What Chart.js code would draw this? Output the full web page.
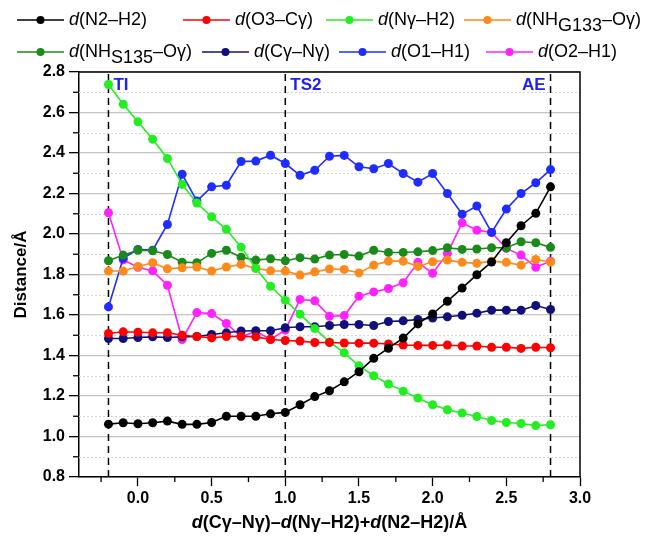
<!DOCTYPE html>
<html>
<head>
<meta charset="utf-8">
<title>Distances along the reaction coordinate</title>
<script src="https://cdn.jsdelivr.net/npm/chart.js@4.4.1/dist/chart.umd.min.js"></script>
<style>
  html, body { margin: 0; padding: 0; background: #ffffff; }
  #wrap { width: 648px; height: 544px; }
</style>
</head>
<body>
<div id="wrap"><canvas id="c" width="648" height="544"></canvas></div>
<script>
// Reaction coordinate d(Cγ–Nγ) − d(Nγ–H2) + d(N2–H2), Å
const xValues = [-0.2, -0.1, 0.0, 0.1, 0.2, 0.3, 0.4, 0.5, 0.6, 0.7, 0.8, 0.9, 1.0, 1.1, 1.2, 1.3,
                 1.4, 1.5, 1.6, 1.7, 1.8, 1.9, 2.0, 2.1, 2.2, 2.3, 2.4, 2.5, 2.6, 2.7, 2.8];

// Interatomic distances, Å
const dN2H2 = [1.061, 1.068, 1.063, 1.068, 1.076, 1.060, 1.060, 1.069, 1.100, 1.100, 1.100, 1.112, 1.119, 1.157, 1.197, 1.226,
               1.270, 1.320, 1.386, 1.436, 1.486, 1.556, 1.605, 1.668, 1.733, 1.799, 1.862, 1.957, 2.041, 2.102, 2.233];
const dO3Cg = [1.509, 1.517, 1.515, 1.512, 1.512, 1.500, 1.494, 1.487, 1.494, 1.495, 1.492, 1.479, 1.474, 1.471, 1.464, 1.464,
               1.462, 1.461, 1.461, 1.457, 1.452, 1.450, 1.450, 1.452, 1.447, 1.447, 1.441, 1.441, 1.435, 1.441, 1.438];
const dNgH2 = [2.738, 2.641, 2.554, 2.468, 2.373, 2.245, 2.153, 2.085, 2.023, 1.935, 1.830, 1.742, 1.672, 1.604, 1.533, 1.467,
               1.413, 1.349, 1.300, 1.259, 1.224, 1.190, 1.157, 1.132, 1.116, 1.099, 1.079, 1.069, 1.064, 1.054, 1.058];
const dNHG133Og = [1.817, 1.817, 1.840, 1.858, 1.828, 1.833, 1.837, 1.817, 1.837, 1.850, 1.831, 1.818, 1.817, 1.797, 1.813, 1.827,
                   1.825, 1.808, 1.846, 1.866, 1.866, 1.840, 1.863, 1.871, 1.860, 1.855, 1.866, 1.860, 1.846, 1.874, 1.862];
const dNHS135Og = [1.868, 1.896, 1.920, 1.917, 1.899, 1.861, 1.858, 1.904, 1.920, 1.885, 1.871, 1.878, 1.868, 1.883, 1.876, 1.896,
                   1.899, 1.891, 1.920, 1.909, 1.909, 1.912, 1.918, 1.932, 1.924, 1.926, 1.932, 1.932, 1.962, 1.957, 1.934];
const dCgNg = [1.484, 1.484, 1.489, 1.492, 1.489, 1.492, 1.494, 1.504, 1.512, 1.521, 1.522, 1.522, 1.537, 1.542, 1.542, 1.548,
               1.553, 1.553, 1.548, 1.568, 1.571, 1.578, 1.585, 1.591, 1.599, 1.609, 1.624, 1.624, 1.624, 1.647, 1.627];
const dO1H1 = [1.640, 1.880, 1.924, 1.920, 2.047, 2.295, 2.163, 2.233, 2.241, 2.358, 2.360, 2.389, 2.348, 2.290, 2.315, 2.384,
               2.388, 2.332, 2.322, 2.348, 2.299, 2.256, 2.299, 2.200, 2.098, 2.138, 2.008, 2.123, 2.200, 2.253, 2.318];
const dO2H1 = [2.105, 1.872, 1.836, 1.818, 1.747, 1.479, 1.612, 1.607, 1.558, 1.492, 1.519, 1.480, 1.525, 1.677, 1.670, 1.594,
               1.597, 1.693, 1.714, 1.731, 1.759, 1.860, 1.806, 1.904, 2.055, 2.019, 2.008, 1.929, 1.896, 1.836, 1.866];

// Series labels as text runs: 'i' italic, 'n' normal, 's' subscript
const seriesLabels = [
  [['d', 'i'], ['(N2–H2)', 'n']],
  [['d', 'i'], ['(O3–Cγ)', 'n']],
  [['d', 'i'], ['(Nγ–H2)', 'n']],
  [['d', 'i'], ['(NH', 'n'], ['G133', 's'], ['–Oγ)', 'n']],
  [['d', 'i'], ['(NH', 'n'], ['S135', 's'], ['–Oγ)', 'n']],
  [['d', 'i'], ['(Cγ–Nγ)', 'n']],
  [['d', 'i'], ['(O1–H1)', 'n']],
  [['d', 'i'], ['(O2–H1)', 'n']]
];
const seriesValues = [dN2H2, dO3Cg, dNgH2, dNHG133Og, dNHS135Og, dCgNg, dO1H1, dO2H1];
const seriesColors = ['#000000', '#ff0000', '#22ee22', '#ff8a1c', '#1a8a1a', '#10107a', '#1f2cff', '#ff22ff'];

// Stationary points marked along the path
const eventX = [-0.2, 1.0, 2.8];
const eventLabels = ['TI', 'TS2', 'AE'];

// Axis ticks
const xTickValues = [0.0, 0.5, 1.0, 1.5, 2.0, 2.5, 3.0];
const xMinorTicks = [-0.25, 0.25, 0.75, 1.25, 1.75, 2.25, 2.75];
const yMinorTicks = [0.9, 1.1, 1.3, 1.5, 1.7, 1.9, 2.1, 2.3, 2.5, 2.7];

const axisTitleY = 'Distance/Å';
const axisTitleX = [['d', 'i'], ['(Cγ–Nγ)–', 'n'], ['d', 'i'], ['(Nγ–H2)+', 'n'], ['d', 'i'], ['(N2–H2)/Å', 'n']];

const FONT = '"Liberation Sans", Arial, sans-serif';

// legend layout: [left of line, row centre]
const legendSlots = [[17, 20], [183, 20], [326, 20], [464, 20], [17, 52], [202, 52], [339, 52], [486, 52]];

function runFont(style, size, bold) {
  return (style === 'i' ? 'italic ' : '') + (bold ? 'bold ' : '') + size + 'px ' + FONT;
}
function runsWidth(ctx, runs, size, bold) {
  let w = 0;
  for (const [t, s] of runs) { ctx.font = runFont(s, size, bold); w += ctx.measureText(t).width; }
  return w;
}
function drawRuns(ctx, runs, x, y, size, bold, color) {
  ctx.fillStyle = color;
  ctx.textBaseline = 'middle';
  ctx.textAlign = 'left';
  for (const [t, s] of runs) {
    ctx.font = runFont(s, size, bold);
    ctx.fillText(t, x, s === 's' ? y + 6 : y);
    x += ctx.measureText(t).width;
  }
}

const decor = {
  id: 'decor',
  beforeDatasetsDraw(chart) {
    const { ctx, chartArea: a, scales: { x, y } } = chart;
    ctx.save();
    // dotted minor grid
    ctx.strokeStyle = '#d6d6d6';
    ctx.lineWidth = 1;
    ctx.setLineDash([2, 2]);
    for (const v of yMinorTicks) {
      const py = Math.round(y.getPixelForValue(v)) + 0.5;
      ctx.beginPath(); ctx.moveTo(a.left, py); ctx.lineTo(a.right, py); ctx.stroke();
    }
    // dashed markers for stationary points
    ctx.strokeStyle = '#000000';
    ctx.lineWidth = 1.5;
    ctx.setLineDash([7, 5]);
    for (const v of eventX) {
      const px = x.getPixelForValue(v);
      ctx.beginPath(); ctx.moveTo(px, a.bottom); ctx.lineTo(px, a.top); ctx.stroke();
    }
    ctx.restore();
  },
  afterDraw(chart) {
    const { ctx, chartArea: a, scales: { x, y } } = chart;
    ctx.save();
    // frame top and right
    ctx.strokeStyle = '#000000';
    ctx.lineWidth = 1.5;
    ctx.beginPath();
    ctx.moveTo(a.left, a.top); ctx.lineTo(a.right, a.top); ctx.lineTo(a.right, a.bottom);
    ctx.stroke();
    // minor ticks
    ctx.lineWidth = 1.3;
    for (const v of yMinorTicks) {
      const py = y.getPixelForValue(v);
      ctx.beginPath(); ctx.moveTo(a.left - 6, py); ctx.lineTo(a.left, py); ctx.stroke();
    }
    for (const v of xMinorTicks) {
      const px = x.getPixelForValue(v);
      ctx.beginPath(); ctx.moveTo(px, a.bottom); ctx.lineTo(px, a.bottom + 5); ctx.stroke();
    }
    // stationary point labels
    ctx.fillStyle = '#2020f0';
    ctx.font = 'bold 17px ' + FONT;
    ctx.textBaseline = 'middle';
    eventLabels.forEach((t, i) => {
      const px = x.getPixelForValue(eventX[i]);
      if (i === eventLabels.length - 1) { ctx.textAlign = 'right'; ctx.fillText(t, px - 5, 85); }
      else { ctx.textAlign = 'left'; ctx.fillText(t, px + 5, 85); }
    });
    // legend
    chart.data.datasets.forEach((ds, i) => {
      const [lx, ly] = legendSlots[i];
      ctx.strokeStyle = ds.borderColor;
      ctx.lineWidth = 1.6;
      ctx.beginPath(); ctx.moveTo(lx, ly); ctx.lineTo(lx + 47, ly); ctx.stroke();
      ctx.fillStyle = ds.borderColor;
      ctx.beginPath(); ctx.arc(lx + 23.5, ly, 4, 0, Math.PI * 2); ctx.fill();
      drawRuns(ctx, seriesLabels[i], lx + 52, ly, 18, false, '#000000');
    });
    // axis titles
    const tw = runsWidth(ctx, axisTitleX, 18, true);
    drawRuns(ctx, axisTitleX, (a.left + a.right) / 2 - tw / 2, 523, 18, true, '#000000');
    ctx.translate(21, (a.top + a.bottom) / 2);
    ctx.rotate(-Math.PI / 2);
    ctx.font = 'bold 17px ' + FONT;
    ctx.textAlign = 'center';
    ctx.textBaseline = 'middle';
    ctx.fillStyle = '#000000';
    ctx.fillText(axisTitleY, 0, 0);
    ctx.restore();
  }
};

const datasets = seriesValues.map((vals, i) => ({
  label: seriesLabels[i].map(r => r[0]).join(''),
  data: xValues.map((xv, k) => ({ x: xv, y: vals[k] })),
  borderColor: seriesColors[i],
  backgroundColor: seriesColors[i],
  borderWidth: 1.6,
  pointRadius: 4.5,
  pointBorderWidth: 0,
  pointHoverRadius: 4.5,
  tension: 0,
  clip: false
}));

new Chart(document.getElementById('c'), {
  type: 'line',
  data: { datasets },
  plugins: [decor],
  options: {
    responsive: false,
    animation: false,
    devicePixelRatio: 1,
    layout: { padding: { left: 0, right: 68, top: 72, bottom: 0 } },
    plugins: { legend: { display: false }, tooltip: { enabled: false } },
    scales: {
      x: {
        type: 'linear',
        min: -0.4,
        max: 3.0,
        afterBuildTicks: s => { s.ticks = xTickValues.map(v => ({ value: v })); },
        afterFit: s => { s.height = 67; },
        grid: { drawOnChartArea: false, drawTicks: true, tickLength: 9, tickColor: '#000000', tickWidth: 1.3 },
        border: { display: true, color: '#000000', width: 1.5 },
        ticks: {
          color: '#000000', padding: 3, maxRotation: 0, autoSkip: false,
          font: { family: FONT, size: 16, weight: 'bold' },
          callback: v => Number(v).toFixed(1)
        }
      },
      y: {
        type: 'linear',
        min: 0.8,
        max: 2.8,
        afterFit: s => { s.width = 79; },
        grid: { color: '#c4c4c4', lineWidth: 1.3, drawTicks: true, tickLength: 10, tickColor: '#000000', tickWidth: 1.3 },
        border: { display: true, color: '#000000', width: 1.5 },
        ticks: {
          stepSize: 0.2, color: '#000000', padding: 4,
          font: { family: FONT, size: 16, weight: 'bold' },
          callback: v => Number(v).toFixed(1)
        }
      }
    }
  }
});
</script>
</body>
</html>
